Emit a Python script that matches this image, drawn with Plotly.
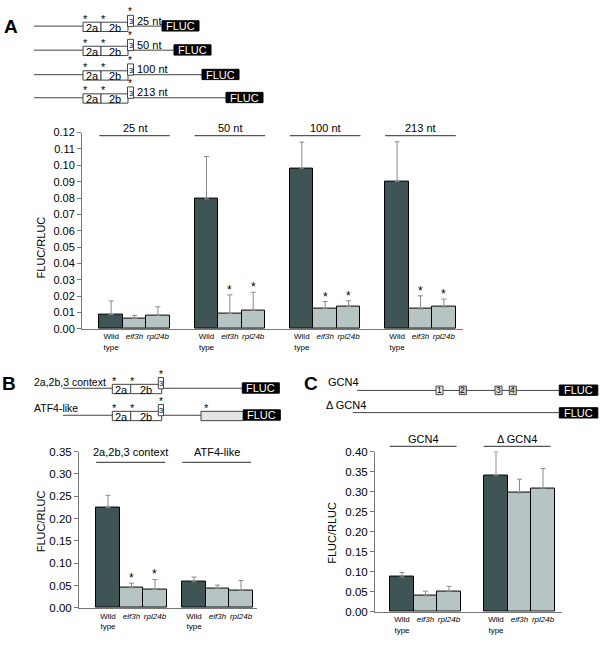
import plotly.graph_objects as go

W, H = 600, 646
FONT = "Liberation Sans, Arial, sans-serif"
DARK = "#3f5555"
LIGHT = "#b6c5c3"
AXC = "#777777"

strains = ["Wild<br>type", "<i>eif3h</i>", "<i>rpl24b</i>"]
strain_colors = [DARK, LIGHT, LIGHT]

# Panel A: 5' leader length
a_groups = ["25 nt", "50 nt", "100 nt", "213 nt"]
a_wild = [0.0088, 0.0795, 0.0982, 0.0902]
a_wild_sd = [0.0083, 0.0259, 0.0160, 0.0242]
a_eif3h = [0.0064, 0.0094, 0.0124, 0.0122]
a_eif3h_sd = [0.0019, 0.0114, 0.0043, 0.0080]
a_rpl24b = [0.0084, 0.0114, 0.0136, 0.0134]
a_rpl24b_sd = [0.0051, 0.0110, 0.0036, 0.0048]
a_sig = [[0, 0, 0, 0], [0, 1, 1, 1], [0, 1, 1, 1]]

# Panel B
b_groups = ["2a,2b,3 context", "ATF4-like"]
b_wild = [0.225, 0.0584]
b_wild_sd = [0.027, 0.0106]
b_eif3h = [0.045, 0.0439]
b_eif3h_sd = [0.0105, 0.0071]
b_rpl24b = [0.041, 0.0395]
b_rpl24b_sd = [0.0226, 0.0219]
b_sig = [[0, 0], [1, 0], [1, 0]]

# Panel C
c_groups = ["GCN4", "Δ GCN4"]
c_wild = [0.087, 0.3407]
c_wild_sd = [0.011, 0.0588]
c_eif3h = [0.040, 0.2966]
c_eif3h_sd = [0.0115, 0.0344]
c_rpl24b = [0.0514, 0.3088]
c_rpl24b_sd = [0.0123, 0.049]
c_sig = [[0, 0], [0, 0], [0, 0]]


def px(x):
    return x / W


def py(y):
    return 1 - y / H


shapes = []
annots = []


def box(x0, y0, x1, y1, fill="white", lc="#444", lw=1):
    shapes.append(dict(type="rect", xref="paper", yref="paper",
                       x0=px(x0), x1=px(x1), y0=py(y1), y1=py(y0),
                       fillcolor=fill, line=dict(color=lc, width=lw)))


def hline(x0, x1, y, color="#444", w=1):
    shapes.append(dict(type="line", xref="paper", yref="paper",
                       x0=px(x0), x1=px(x1), y0=py(y), y1=py(y),
                       line=dict(color=color, width=w)))


def text(x, y, s, size=11, color="black", xanchor="center", **kw):
    annots.append(dict(xref="paper", yref="paper", x=px(x), y=py(y), text=s,
                       showarrow=False, xanchor=xanchor, yanchor="middle",
                       borderpad=0, font=dict(family=FONT, size=size, color=color), **kw))


def fluc(x0, L, w=37):
    box(x0, L - 5.5, x0 + w, L + 5, fill="black", lc="black")
    text(x0 + w / 2, L, "FLUC", size=11, color="white")


def uorfs(L, x2a, x2b, x3):
    box(x2a[0], L - 4, x2a[1], L + 5.5)
    box(x2b[0], L - 4, x2b[1], L + 5.5)
    box(x3[0], L - 11, x3[1], L + 0.5)
    text((x2a[0] + x2a[1]) / 2, L + 1.5, "2a", size=11)
    text((x2b[0] + x2b[1]) / 2, L + 1.5, "2b", size=11)
    text((x3[0] + x3[1]) / 2, L - 4.5, "3", size=7.5)
    for sx, sy, fs in [(x2a[0] + 2, L - 7.5, 11), (x2b[0] + 2, L - 7.5, 11),
                       (x3[0] + 2.5, L - 14.5, 10)]:
        text(sx, sy, "*", size=fs)


# --- construct diagrams, panel A
a_rows = [20.5, 45, 70, 93.5]
a_fluc_x = [162, 174, 202, 226]
for L, fx, lab in zip(a_rows, a_fluc_x, a_groups):
    hline(34, fx, L)
    uorfs(L, (83, 101), (101, 128), (127.5, 133.5))
    text(136, L - 5.5, lab, size=11, xanchor="left")
    fluc(fx, L)

# panel B
hline(63, 243, 389.5)
uorfs(389.5, (112.3, 130.7), (130.7, 161.7), (158.3, 163.5))
fluc(242.3, 389.5)
text(33, 383, "2a,2b,3 context", size=10.5, xanchor="left")
hline(63, 244, 417)
uorfs(417, (112.3, 130.7), (130.7, 161.7), (158.3, 163.5))
box(201, 413, 243.3, 422.5, fill="#e4e4e4")
text(206, 409.5, "*", size=11)
fluc(243.3, 417)
text(33, 409.5, "ATF4-like", size=10.5, xanchor="left")

# panel C
hline(357, 560, 391.7)
for (x0, lab, fill) in [(436, "1", "#eeeeee"), (459.3, "2", "#cfcfcf"),
                        (495, "3", "#e2e2e2"), (509.3, "4", "#d5d5d5")]:
    box(x0, 387.3, x0 + 7, 396, fill=fill)
    text(x0 + 3.5, 391.7, lab, size=8.5)
fluc(559.3, 391.7, w=38.5)
text(327, 383, "GCN4", size=11, xanchor="left")
hline(353, 560, 414.3)
fluc(559.3, 414.8, w=38.5)
text(325, 407, "Δ GCN4", size=11, xanchor="left")

# panel letters
text(10.5, 21, "<b>A</b>", size=19)
text(8.5, 385, "<b>B</b>", size=19)
text(311, 385, "<b>C</b>", size=19)

fig = go.Figure()

panels = [
    dict(ax="", groups=a_groups,
         vals=[a_wild, a_eif3h, a_rpl24b], sds=[a_wild_sd, a_eif3h_sd, a_rpl24b_sd],
         sig=a_sig, w=0.245, xr=[-0.551, 3.446], yr=[0, 0.12], dtick=0.01,
         xpx=(82, 463), ypx=(329, 129),
         span=(-0.37, 0.37), line_y=0.985, head_y=1.024, title_y=246, title_x=41,
         tick_size=11),
    dict(ax="2", groups=b_groups,
         vals=[b_wild, b_eif3h, b_rpl24b], sds=[b_wild_sd, b_eif3h_sd, b_rpl24b_sd],
         sig=b_sig, w=0.273, xr=[-0.61, 1.459], yr=[0, 0.35], dtick=0.05,
         xpx=(79, 257), ypx=(613.3, 454),
         span=(-0.41, 0.39), line_y=0.931, head_y=0.997, title_y=525, title_x=41,
         tick_size=11.5),
    dict(ax="3", groups=c_groups,
         vals=[c_wild, c_eif3h, c_rpl24b], sds=[c_wild_sd, c_eif3h_sd, c_rpl24b_sd],
         sig=c_sig, w=0.25, xr=[-0.537, 1.452], yr=[0, 0.40], dtick=0.05,
         xpx=(375, 562), ypx=(617.3, 454),
         span=(-0.38, 0.33), line_y=1.0325, head_y=1.077, title_y=536.7, title_x=332,
         tick_size=11.5),
]

layout_axes = {}
for p in panels:
    xa, ya = "x" + p["ax"], "y" + p["ax"]
    n = len(p["groups"])
    tickvals, ticktext = [], []
    for s in range(3):
        xs = [g + (s - 1) * p["w"] for g in range(n)]
        fig.add_trace(go.Bar(
            x=xs, y=p["vals"][s], width=p["w"], xaxis=xa, yaxis=ya,
            marker=dict(color=strain_colors[s], line=dict(color="black", width=1)),
            error_y=dict(type="data", symmetric=False, array=p["sds"][s],
                         arrayminus=[0] * n, color="#8a8a8a", thickness=1, width=2.5),
            showlegend=False, hoverinfo="skip"))
        for g in range(n):
            tickvals.append(xs[g])
            ticktext.append(strains[s])
            if p["sig"][s][g]:
                annots.append(dict(xref=xa, yref=ya, x=xs[g],
                                   y=p["vals"][s][g] + p["sds"][s][g],
                                   text="*", showarrow=False, yanchor="bottom",
                                   yshift=-4, font=dict(family=FONT, size=12)))
    for g, name in enumerate(p["groups"]):
        x0, x1 = g + p["span"][0], g + p["span"][1]
        shapes.append(dict(type="line", xref=xa, yref=ya + " domain",
                           x0=x0, x1=x1, y0=p["line_y"], y1=p["line_y"],
                           line=dict(color="#555", width=1.3)))
        annots.append(dict(xref=xa, yref=ya + " domain", x=(x0 + x1) / 2,
                           y=p["head_y"], text=name, showarrow=False,
                           yanchor="middle", font=dict(family=FONT, size=11)))
    text(p["title_x"], p["title_y"], "FLUC/RLUC", size=11, textangle=-90)

    # y tick labels with two decimals, as in the figure
    yt = [i * p["dtick"] for i in range(int(round(p["yr"][1] / p["dtick"])) + 1)]
    key = p["ax"]
    layout_axes["xaxis" + key] = dict(
        domain=[px(p["xpx"][0]), px(p["xpx"][1])], anchor=ya, range=p["xr"],
        showline=True, linecolor=AXC, linewidth=1, ticks="",
        tickvals=tickvals, ticktext=ticktext,
        tickfont=dict(family=FONT, size=8, color="black"), showgrid=False,
        zeroline=False, fixedrange=True)
    layout_axes["yaxis" + key] = dict(
        domain=[py(p["ypx"][0]), py(p["ypx"][1])], anchor=xa, range=p["yr"],
        tickvals=yt, ticktext=["%.2f" % v for v in yt], showline=True,
        linecolor=AXC, linewidth=1, ticks="outside", ticklen=4, tickcolor=AXC,
        showgrid=False, zeroline=False, fixedrange=True,
        tickfont=dict(family=FONT, size=p["tick_size"], color="black"))

fig.update_layout(
    width=W, height=H, margin=dict(l=0, r=0, t=0, b=0),
    paper_bgcolor="white", plot_bgcolor="white", bargap=0,
    font=dict(family=FONT, color="black"),
    shapes=shapes, annotations=annots, showlegend=False,
    **layout_axes)

# drop the browser's default 8px body margin so the figure fills the window
fig.write_html("out.html", config={"displayModeBar": False},
               post_script="document.body.style.margin='0';")
